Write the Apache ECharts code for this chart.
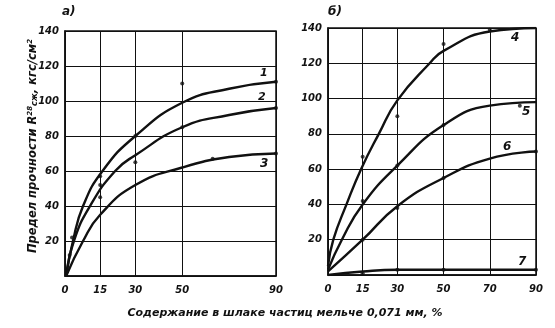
<!DOCTYPE html>
<html><head><meta charset="utf-8">
<script src="https://cdn.jsdelivr.net/npm/echarts@6/dist/echarts.min.js"></script>
<style>html,body{margin:0;padding:0;background:#fff}#c{width:555px;height:328px}</style>
</head><body><div id="c"></div>
<script>
// ---- data ----
const xTicksA = [0, 15, 30, 50, 90];
const xTicksB = [0, 15, 30, 50, 70, 90];
const yTicks = [20, 40, 60, 80, 100, 120, 140];
// panel а)
const curve1 = [[0.5,0],[3.4,20],[7.7,40],[16,60],[30,80],[50,99],[70,107],[90,111]];
const curve2 = [[0.5,0],[3.8,20],[10.7,40],[21.4,60],[30,69],[50,85],[70,92],[90,96]];
const curve3 = [[0.5,0],[7.7,20],[15,35],[30,52],[50,62],[70,68],[90,70]];
const pointsA = [[15,57],[15,52],[15,45],[30,80],[30,65],[50,110],[50,85],[63,67],[90,111],[90,96],[90,70],[3,22],[2,12]];
// panel б)
const curve4 = [[0,5],[2.3,20],[8,40],[14.3,60],[22,80],[30,99],[44,120],[50,127],[70,138],[90,140]];
const curve5 = [[0,3],[6,20],[15,40],[30,62],[50,85],[70,96],[90,98]];
const curve6 = [[0,2],[15,20],[30,39],[50,55],[70,66],[90,70]];
const curve7 = [[0,0],[15,2],[30,3],[50,3],[70,3],[90,3]];
const pointsB = [[15,67],[15,42],[15,20],[30,90],[30,62],[30,38],[50,131],[50,85],[50,55],[70,139],[83,96],[90,70],[15,1],[30,3],[50,3],[90,3]];
const curveNames = ['1','2','3','4','5','6','7'];
const panelNames = ['а)', 'б)'];
const yTitle = 'Предел прочности R';
const xTitle = 'Содержание в шлаке частиц мельче 0,071 мм, %';

// ---- chart ----
const FONT = 'DejaVu Sans';
const ink = '#111';
const lab = {color: ink, fontFamily: FONT, fontStyle: 'italic', fontWeight: 'bold', fontSize: 10};
function xAxis(gi, ticks) {
  return {type: 'value', gridIndex: gi, min: 0, max: 90,
    axisLine: {show: true, lineStyle: {color: ink, width: 1.5}},
    axisTick: {show: false, customValues: ticks},
    axisLabel: Object.assign({customValues: ticks, margin: 9}, lab),
    splitLine: {show: true, lineStyle: {color: ink, width: 1}}};
}
function yAxis(gi) {
  return {type: 'value', gridIndex: gi, min: 0, max: 140, interval: 20,
    axisLine: {show: true, lineStyle: {color: ink, width: 1.5}},
    axisTick: {show: false},
    axisLabel: Object.assign({margin: 6, formatter: v => v === 0 ? '' : String(v)}, lab),
    splitLine: {show: true, lineStyle: {color: ink, width: 1}}};
}
function line(data, gi) {
  return {type: 'line', xAxisIndex: gi, yAxisIndex: gi, data: data, smooth: 0.5,
    showSymbol: false, lineStyle: {color: ink, width: 2.4}, z: 3, silent: true};
}
function dots(data, gi) {
  return {type: 'scatter', xAxisIndex: gi, yAxisIndex: gi, data: data, symbolSize: 4,
    itemStyle: {color: ink}, z: 4, silent: true};
}
const tStyle = (text, size) => ({text: text, fill: ink, font: 'italic bold ' + size + 'px "' + FONT + '"'});
const chart = echarts.init(document.getElementById('c'), null, {renderer: 'canvas'});
chart.setOption({
  backgroundColor: '#fff',
  animation: false,
  grid: [
    {left: 65, right: 279, top: 31, bottom: 52, show: true, borderColor: ink, borderWidth: 1.5},
    {left: 328, right: 19, top: 28, bottom: 53, show: true, borderColor: ink, borderWidth: 1.5}
  ],
  xAxis: [xAxis(0, xTicksA), xAxis(1, xTicksB)],
  yAxis: [yAxis(0), yAxis(1)],
  series: [
    line(curve1, 0), line(curve2, 0), line(curve3, 0), dots(pointsA, 0),
    line(curve4, 1), line(curve5, 1), line(curve6, 1), line(curve7, 1), dots(pointsB, 1)
  ],
  graphic: [
    {type: 'text', left: 62, top: 6, style: tStyle(panelNames[0], 12)},
    {type: 'text', left: 328, top: 6, style: tStyle(panelNames[1], 12)},
    {type: 'text', x: 260, y: 68, style: tStyle(curveNames[0], 11)},
    {type: 'text', x: 258, y: 92, style: tStyle(curveNames[1], 11)},
    {type: 'text', x: 260, y: 158, style: tStyle(curveNames[2], 12)},
    {type: 'text', x: 511, y: 32, style: tStyle(curveNames[3], 12)},
    {type: 'text', x: 522, y: 106, style: tStyle(curveNames[4], 12)},
    {type: 'text', x: 503, y: 141, style: tStyle(curveNames[5], 12)},
    {type: 'text', x: 518, y: 256, style: tStyle(curveNames[6], 12)},
    {type: 'text', x: 285, y: 313, style: Object.assign(tStyle(xTitle, 11), {align: 'center', verticalAlign: 'middle'})},
    {type: 'text', x: 33, y: 146, rotation: Math.PI / 2,
      style: {text: yTitle + '{sup|28}{sub|сж}, кгс/см{sup|2}', fill: ink, align: 'center', verticalAlign: 'middle',
        font: 'italic bold 11.5px "' + FONT + '"',
        rich: {sup: {fontSize: 7, fontStyle: 'italic', fontWeight: 'bold', fontFamily: FONT, verticalAlign: 'top', fill: ink},
               sub: {fontSize: 8, fontStyle: 'italic', fontWeight: 'bold', fontFamily: FONT, verticalAlign: 'bottom', fill: ink}}}}
  ]
});
</script></body></html>
